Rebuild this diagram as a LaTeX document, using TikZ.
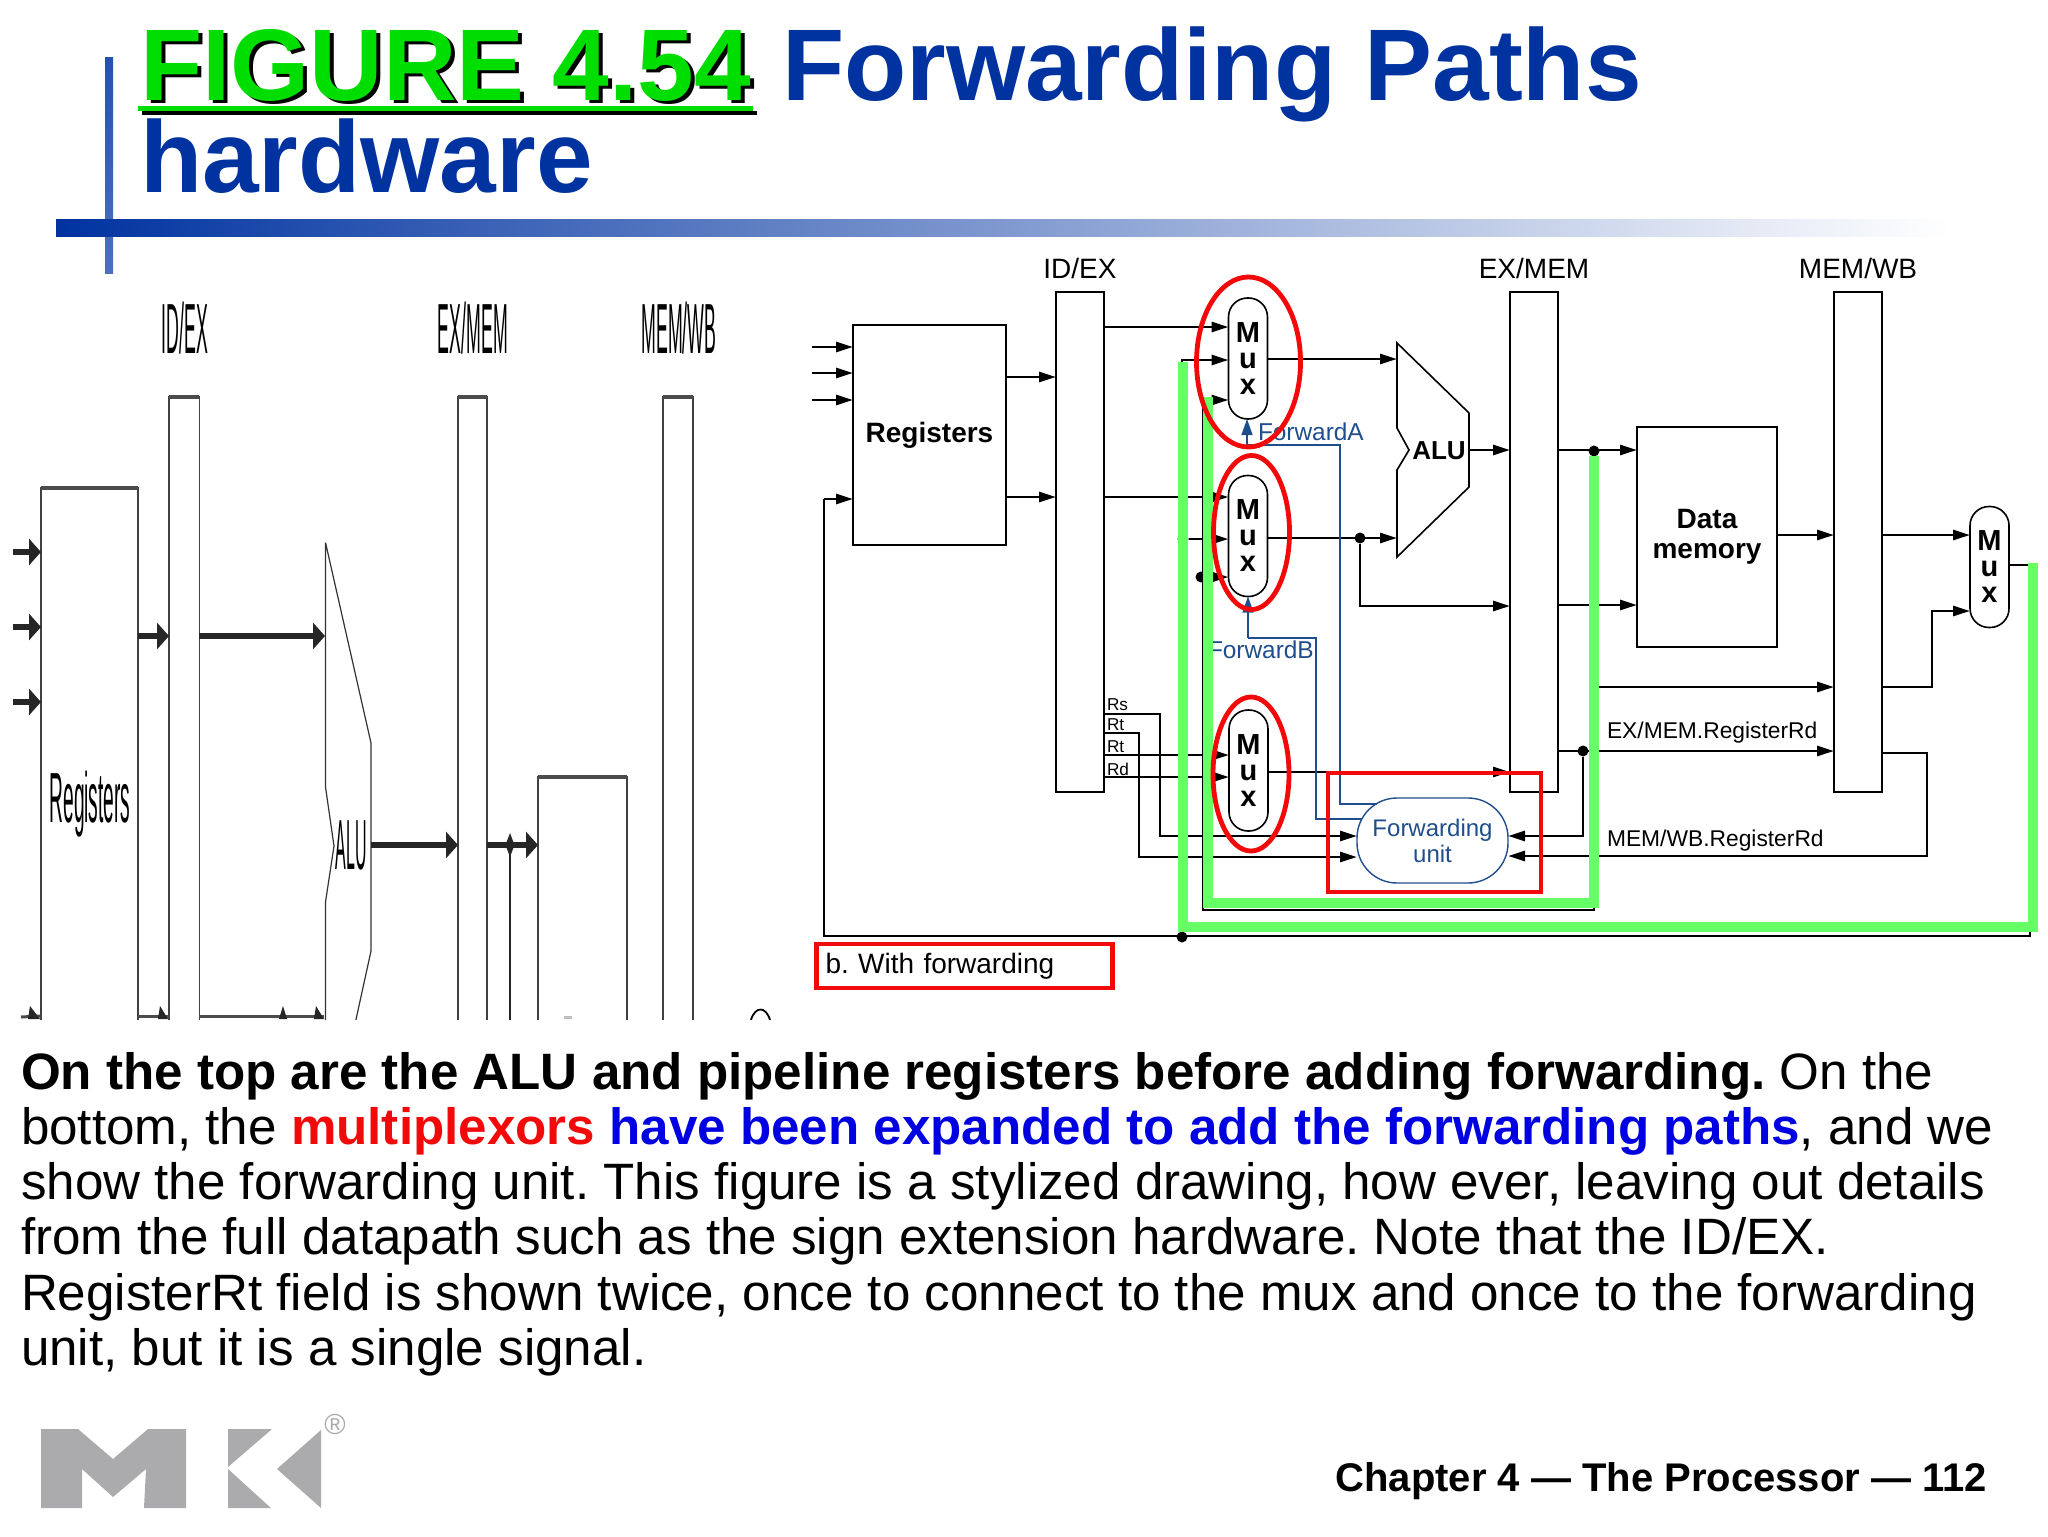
\documentclass[tikz,border=0pt]{standalone}
\usepackage{graphicx}
\usepackage{fontspec}
\setmainfont{Liberation Sans}
\frenchspacing
\usetikzlibrary{arrows.meta,calc}
\definecolor{ttlblue}{HTML}{0033A0}
\definecolor{ttlgreen}{HTML}{00DD00}
\definecolor{fwdblue}{HTML}{1F4E8C}
\definecolor{hlgreen}{HTML}{66FF66}
\definecolor{hlred}{HTML}{F20A0A}
\definecolor{logogray}{HTML}{ABABAD}
\definecolor{bodyblue}{HTML}{0000E0}
\tikzset{
  txt/.style={inner sep=0pt,outer sep=0pt},
  title/.style={txt,anchor=base west,font=\fontsize{50.9}{56}\selectfont\bfseries},
  bodyline/.style={txt,anchor=base west,font=\fontsize{25.57}{28}\selectfont},
  lbl/.style={txt,font=\fontsize{14}{16}\selectfont},
  sig/.style={txt,anchor=west,font=\fontsize{11.4}{13}\selectfont},
  rlbl/.style={txt,anchor=west,font=\fontsize{8.6}{10}\selectfont},
  blk/.style={draw,line width=.8pt,inner sep=0pt,outer sep=0pt,align=center,font=\fontsize{14}{15}\selectfont\bfseries},
  muxn/.style={draw,line width=.8pt,inner sep=0pt,outer sep=0pt,rounded corners=9.5pt,minimum width=19.5pt,minimum height=60.5pt,align=center,font=\fontsize{14.5}{13}\selectfont\bfseries},
  wire/.style={draw,line width=1.4pt,-{Triangle[length=8.5pt,width=5pt]}},
  plainw/.style={draw,line width=1.4pt},
  fwire/.style={draw=fwdblue,line width=.7pt},
  jdot/.style={circle,fill=black,inner sep=0pt,minimum size=5.5pt},
  greenl/.style={draw=hlgreen,line width=4.6pt,line join=miter},
  redl/.style={draw=hlred,line width=2.4pt},
  lpipe/.style={draw=black!75,line width=.6pt,inner sep=0pt,outer sep=0pt},
  thick wire/.style={draw=black!85,line width=2.9pt,-{Triangle[length=6pt,width=13pt]}},
  narrow/.style={txt,font=\fontsize{35.5}{38}\selectfont},
}
\begin{document}
\begin{tikzpicture}[x=.5pt,y=-.5pt]
\useasboundingbox (0,0) rectangle (2048,1536);
\fill[white] (0,0) rectangle (2048,1536);
% rows and columns used to attach connectors
\foreach \v in {327,347,360,373,377,400,450,497,499,535,539,577,605,606,611,687,714,733,751,753,755,772,777,836,856,857,804,819,936,565,845,636,552,627,702,1016}{\coordinate (y\v) at (0,\v);}
\foreach \v in {13,510,824,1139,1160,1180,1203,1340,1316,1360,1397,812,1583,1594,1927,1932,2030,138,199,324,371}{\coordinate (x\v) at (\v,0);}
% ---------- title
\shade[top color=ttlblue!85!white,bottom color=ttlblue!70!white] (105,58) rectangle (113,273);
\shade[left color=ttlblue,right color=white] (56,219) rectangle (1950,236);
\node[title,text=black] (figshadow) at (144,104) {FIGURE 4.54};
\node[title,text=ttlgreen] (fig) at (140,100) {FIGURE 4.54};
\fill[black] (142,111) rectangle (757,115.5);
\fill[ttlgreen] (138,106) rectangle (753,111);
\node[title,text=ttlblue] (fwdpaths) at (782,100) {Forwarding Paths};
\node[title,text=ttlblue] (hw) at (140,192) {hardware};
% ---------- left panel (squeezed picture)
\begin{scope}
\clip (0,295) rectangle (800,1019);
\node[narrow] (lidexl) at (185,328) {\scalebox{.25}[1]{ID/EX}};
\node[narrow] (lexmeml) at (473,328) {\scalebox{.25}[1]{EX/MEM}};
\node[narrow] (lmemwbl) at (679,328) {\scalebox{.25}[1]{MEM/WB}};
\node[lpipe,minimum width=48.5pt,minimum height=300pt,anchor=north west] (lregs) at (41,488) {};
\node[lpipe,minimum width=15.2pt,minimum height=350pt,anchor=north west] (lidex) at (169,397) {};
\node[lpipe,minimum width=14.5pt,minimum height=350pt,anchor=north west] (lexmem) at (458,397) {};
\node[lpipe,minimum width=15pt,minimum height=350pt,anchor=north west] (lmemwb) at (663,397) {};
\node[lpipe,minimum width=44.5pt,minimum height=200pt,anchor=north west] (ldata) at (538,777) {};
\foreach \n in {lregs,lidex,lexmem,lmemwb,ldata}{\draw[draw=black!70,line width=1.8pt] (\n.north west)--(\n.north east);}
\draw[draw=black!80,line width=.6pt] (325.5,542.5)--(371,743)--(371,951)--(355,1024)
  (325.5,542.5)--(325.5,787)--(334,846)--(325.5,902)--(325.5,1024);
\node[narrow] (lregl) at (90,804) {\scalebox{.27}[1]{Registers}};
\node[narrow] (lalul) at (351,845) {\scalebox{.225}[1]{ALU}};
\coordinate (laluw) at (325,636);
\coordinate (lalue) at (371,845);
\draw[thick wire] (x13 |- y552) -- (lregs.west |- y552);
\draw[thick wire] (x13 |- y627) -- (lregs.west |- y627);
\draw[thick wire] (x13 |- y702) -- (lregs.west |- y702);
\draw[thick wire] (lregs.east |- y636) -- (lidex.west |- y636);
\draw[thick wire] (lidex.east |- y636) -- (laluw);
\draw[thick wire] (lalue) -- (lexmem.west |- y845);
\draw[thick wire] (lexmem.east |- y845) -- (ldata.west |- y845);
\node[circle,fill=black!85,inner sep=0pt,minimum width=3pt,minimum height=3pt] (ljn) at (510,845) {};
\fill[black!85] (505.5,845) -- (510,833) -- (514.5,845) -- (510,857) -- cycle;
\draw[draw=black!85,line width=.8pt] (ljn) -- (x510 |- y1016) -- ++(0,10);
\draw[draw=black!70,line width=1.5pt] (21,1017) -- (lregs.west |- y1016);
\draw[draw=black!70,line width=1.5pt] (lregs.east |- y1016) -- (lidex.west |- y1016);
\draw[draw=black!70,line width=1.5pt] (lidex.east |- y1016) -- (324,1016);
\fill[black!85] (28,1019)--(30,1006)--(40,1019)--cycle (158,1019)--(160,1006)--(168,1019)--cycle (314,1019)--(316,1006)--(324,1019)--cycle (279,1019)--(283,1006)--(287,1019)--cycle;
\draw[draw=black,line width=.9pt] (751,1020) .. controls (755,1006) and (766,1006) .. (770,1020);
\fill[black!25] (564,1016) rectangle (572,1019);
\end{scope}
% ---------- pipeline blocks
\node[lbl] (idexl) at (1080,268) {ID/EX};
\node[lbl] (exmeml) at (1534,268) {EX/MEM};
\node[lbl] (memwbl) at (1858,268) {MEM/WB};
\node[blk,minimum width=76.5pt,minimum height=110pt] (regs) at (929.5,435) {Registers};
\node[blk,minimum width=24pt,minimum height=250pt] (idex) at (1080,542) {};
\node[blk,minimum width=24pt,minimum height=250pt] (exmem) at (1534,542) {};
\node[blk,minimum width=24pt,minimum height=250pt] (memwb) at (1858,542) {};
\node[blk,minimum width=70pt,minimum height=110pt] (dmem) at (1707,537) {Data\\memory};
\node[muxn] (mux1) at (1248,358.5) {M\\u\\x};
\node[muxn] (mux2) at (1248,536) {M\\u\\x};
\node[muxn] (mux3) at (1248.5,770.5) {M\\u\\x};
\node[muxn] (mux4) at (1989.5,567) {M\\u\\x};
\node[draw=fwdblue,line width=.7pt,inner sep=0pt,outer sep=0pt,rounded corners=20pt,minimum width=75.5pt,minimum height=42.5pt,align=center,text=fwdblue,font=\fontsize{12}{13}\selectfont] (unit) at (1432.5,840.5) {Forwarding\\unit};
% ALU outline
\coordinate (aluin1) at (1397,359);
\coordinate (aluin2) at (1397,538);
\coordinate (aluout) at (1469,450);
\draw[line width=.8pt,line join=miter] (1397,343)--(1469,413)--(1469,487)--(1397,557)--(1397,470)--(1409,450)--(1397,428)--cycle;
\node[txt,font=\fontsize{13}{15}\selectfont\bfseries] (alul) at (1439,451) {ALU};
% ---------- black wires
\foreach \r in {347,373,400}{\draw[wire] (x812 |- y\r) -- (regs.west |- y\r);}
\draw[wire] (regs.east |- y377) -- (idex.west |- y377);
\draw[wire] (regs.east |- y497) -- (idex.west |- y497);
\draw[wire] (idex.east |- y327) -- (mux1.west |- y327);
\draw[wire] (idex.east |- y497) -- (mux2.west |- y497);
\draw[wire] (idex.east |- y755) -- (mux3.west |- y755);
\draw[wire] (idex.east |- y777) -- (mux3.west |- y777);
\draw[wire] (mux1.east |- aluin1) -- (aluin1);
\draw[wire] (mux2.east |- aluin2) -- (aluin2);
\draw[wire] (aluout) -- (exmem.west |- aluout);
\draw[wire] (mux3.east |- y772) -- (exmem.west |- y772);
\node[jdot] (jalu) at (1360,538) {};
\draw[wire] (jalu) -- (x1360 |- y606) -- (exmem.west |- y606);
\draw[wire] (exmem.east |- y450) -- (dmem.west |- y450);
\draw[wire] (exmem.east |- y605) -- (dmem.west |- y605);
\draw[wire] (dmem.east |- y535) -- (memwb.west |- y535);
\draw[wire] (memwb.east |- y535) -- (mux4.west |- y535);
\draw[wire] (x1594 |- y687) -- (memwb.west |- y687);
\draw[wire] (memwb.east |- y687) -- (x1932 |- y687) -- (x1932 |- y611) -- (mux4.west |- y611);
\draw[wire] (exmem.east |- y751) -- (memwb.west |- y751);
\node[jdot] (jrd) at (1583,751) {};
\draw[wire] (jrd) -- (x1583 |- y836) -- (unit.east |- y836);
\draw[wire] (memwb.east |- y753) -- (x1927 |- y753) -- (x1927 |- y856) -- (unit.east |- y856);
\draw[wire] (idex.east |- y714) -- (x1160 |- y714) -- (x1160 |- y836) -- (unit.west |- y836);
\draw[wire] (idex.east |- y733) -- (x1139 |- y733) -- (x1139 |- y857) -- (unit.west |- y857);
% feedback from EX/MEM
\node[jdot] (jfb1) at (1594,451) {};
\node[jdot] (jfb2) at (1201,577) {};
\draw[wire] (jfb1) -- (1594,910) -- (1203,910) -- (x1203 |- y400) -- (mux1.west |- y400);
\draw[wire] (jfb2) -- (mux2.west |- y577);
% feedback from MEM/WB
\node[jdot] (jwb) at (1182,937) {};
\node[jdot] (jwb2) at (1183,539) {};
\coordinate (wbt) at (1182,360);
\draw[plainw] (mux4.east |- y565) -- (x2030 |- y565) -- (x2030 |- y936) -- (x824 |- y936) -- (x824 |- y499);
\draw[wire] (x824 |- y499) -- (regs.west |- y499);
\draw[wire] (jwb) -- (wbt) -- (mux1.west |- wbt);
\draw[wire] (jwb2) -- (mux2.west |- y539);
% ---------- blue control wires
\coordinate (fa) at (1247,445);
\coordinate (fb) at (1248,638);
\draw[fwire,-{Triangle[length=8pt,width=5.5pt]}] (fa) -- (mux1.south -| fa);
\draw[fwire] (fa) -- (x1340 |- fa) -- (x1340 |- y804) -- (1377,804);
\draw[fwire,-{Triangle[length=8pt,width=5.5pt]}] (fb) -- (mux2.south -| fb);
\draw[fwire] (fb) -- (x1316 |- fb) -- (x1316 |- y819) -- (1362,819);
\node[txt,anchor=west,text=fwdblue,font=\fontsize{12.2}{14}\selectfont] (fal) at (1258,432) {ForwardA};
\node[txt,anchor=west,text=fwdblue,font=\fontsize{12.2}{14}\selectfont] (fbl) at (1208,650) {ForwardB};
% ---------- labels
\node[rlbl] (rs) at (1107,705) {Rs};
\node[rlbl] (rt1) at (1107,725) {Rt};
\node[rlbl] (rt2) at (1107,747) {Rt};
\node[rlbl] (rd) at (1107,769) {Rd};
\node[sig] (exrd) at (1607,733) {EX/MEM.RegisterRd};
\node[sig] (wbrd) at (1607,841) {MEM/WB.RegisterRd};
% ---------- highlights
\draw[greenl] (1208,397) -- (1208,903) -- (1594,903) -- (1594,456);
\draw[greenl] (1183,362) -- (1183,927) -- (2033,927) -- (2033,563);
\draw[redl] (1248.5,362) ellipse [x radius=52,y radius=85];
\draw[redl] (1251.5,532.5) ellipse [x radius=38,y radius=77];
\draw[redl] (1251,774) ellipse [x radius=38,y radius=77];
\draw[redl] (1328,773) rectangle (1541,892);
\node[draw=hlred,line width=2.4pt,minimum width=148pt,minimum height=22pt,inner sep=0pt,text width=139pt,align=left,font=\fontsize{14}{16}\selectfont] (cap) at (964.5,966) {b. With forwarding};
% ---------- body text
\node[bodyline] (b1) at (21,1089) {\bfseries On the top are the ALU and pipeline registers before adding forwarding.\mdseries{} On the};
\node[bodyline] (b2) at (21,1144.3) {bottom, the \textcolor{hlred}{\bfseries multiplexors} \textcolor{bodyblue}{\bfseries have been expanded to add the forwarding paths}, and we};
\node[bodyline] (b3) at (21,1199.6) {show the forwarding unit. This figure is a stylized drawing, how ever, leaving out details};
\node[bodyline] (b4) at (21,1254.9) {from the full datapath such as the sign extension hardware. Note that the ID/EX.};
\node[bodyline] (b5) at (21,1310.2) {RegisterRt field is shown twice, once to connect to the mux and once to the forwarding};
\node[bodyline] (b6) at (21,1365.5) {unit, but it is a single signal.};
% ---------- footer
\node[txt,anchor=base east,font=\fontsize{20}{22}\selectfont\bfseries] (foot) at (1987,1491) {Chapter 4 — The Processor — 112};
\fill[logogray] (41,1429)--(78,1429)--(113,1459)--(148,1429)--(186,1429)--(186,1508)--(144,1508)--(146,1469)--(113,1497)--(82,1469)--(82,1508)--(41,1508)--cycle;
\fill[logogray] (228,1429)--(272,1429)--(228,1467)--cycle (228,1469)--(271,1508)--(228,1508)--cycle (321,1430)--(277,1469)--(321,1508)--cycle;
\node[txt,text=logogray,font=\fontsize{14.5}{16}\selectfont] (reg) at (335,1424) {®};
\end{tikzpicture}
\end{document}
